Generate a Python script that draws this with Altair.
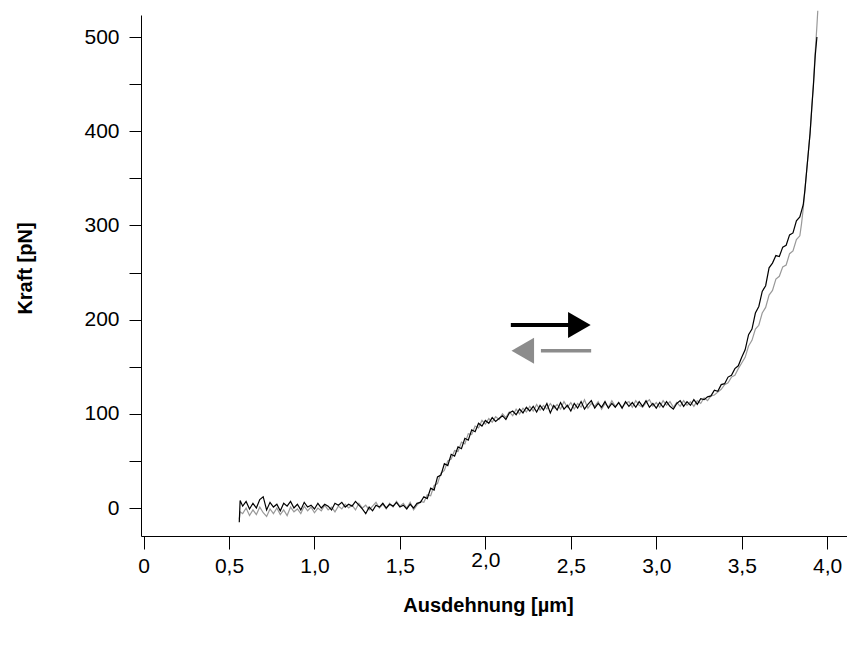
import altair as alt
import pandas as pd

FONT = "Liberation Sans"

# Stretch trace (black): (Ausdehnung µm, Kraft pN)
black_pts = [
    (0.56, -15), (0.565, 8), (0.58, 2), (0.60, 7), (0.62, -1), (0.64, 5), (0.66, 0), (0.68, 9),
    (0.70, 12), (0.72, -2), (0.74, 6), (0.76, 1), (0.78, 4), (0.80, -3), (0.82, 5), (0.84, 2),
    (0.86, 7), (0.88, 0), (0.90, 4), (0.92, -2), (0.94, 6), (0.96, 1), (0.98, 3), (1.00, -1),
    (1.02, 5), (1.04, 0), (1.06, 4), (1.08, 2), (1.10, -2), (1.12, 5), (1.14, 3), (1.16, 6),
    (1.18, 1), (1.20, 4), (1.22, 2), (1.24, 7), (1.26, 3), (1.28, -1), (1.30, -6), (1.32, 1),
    (1.34, -3), (1.36, 3), (1.38, 1), (1.40, 5), (1.42, 0), (1.44, 4), (1.46, 2), (1.48, 6),
    (1.50, 1), (1.52, 3), (1.54, -1), (1.56, 4), (1.58, 0), (1.60, 5), (1.62, 6), (1.64, 12),
    (1.66, 10), (1.68, 21), (1.70, 19), (1.72, 33), (1.74, 35), (1.76, 47), (1.78, 45), (1.80, 57),
    (1.82, 55), (1.84, 65), (1.86, 63), (1.88, 74), (1.90, 72), (1.92, 83), (1.94, 81), (1.96, 90),
    (1.98, 87), (2.00, 93), (2.02, 90), (2.04, 96), (2.06, 92), (2.08, 95), (2.10, 98), (2.12, 94),
    (2.14, 101), (2.16, 103), (2.18, 99), (2.20, 105), (2.22, 101), (2.24, 107), (2.26, 103), (2.28, 108),
    (2.30, 102), (2.32, 109), (2.34, 104), (2.36, 111), (2.38, 101), (2.40, 109), (2.42, 104), (2.44, 112),
    (2.46, 105), (2.48, 109), (2.50, 103), (2.52, 111), (2.54, 106), (2.56, 113), (2.58, 105), (2.60, 110),
    (2.62, 114), (2.64, 106), (2.66, 111), (2.68, 107), (2.70, 113), (2.72, 106), (2.74, 111), (2.76, 107),
    (2.78, 112), (2.80, 106), (2.82, 113), (2.84, 108), (2.86, 112), (2.88, 107), (2.90, 113), (2.92, 108),
    (2.94, 114), (2.96, 107), (2.98, 111), (3.00, 106), (3.02, 112), (3.04, 107), (3.06, 113), (3.08, 108),
    (3.10, 105), (3.12, 111), (3.14, 114), (3.16, 108), (3.18, 113), (3.20, 109), (3.22, 115), (3.24, 110),
    (3.26, 116), (3.28, 115), (3.30, 118), (3.32, 119), (3.34, 125), (3.36, 124), (3.38, 131), (3.40, 132),
    (3.42, 139), (3.44, 141), (3.46, 148), (3.48, 151), (3.50, 160), (3.52, 168), (3.54, 184), (3.56, 190),
    (3.58, 207), (3.60, 214), (3.62, 230), (3.64, 236), (3.66, 255), (3.68, 260), (3.70, 268), (3.72, 267),
    (3.74, 277), (3.76, 279), (3.78, 290), (3.80, 292), (3.82, 305), (3.84, 309), (3.86, 322), (3.87, 338),
    (3.88, 358), (3.89, 378), (3.90, 398), (3.91, 425), (3.92, 450), (3.93, 480), (3.94, 500),
]

# Relaxation trace (grey)
gray_pts = [
    (0.56, -12), (0.565, -4), (0.58, -6), (0.60, 0), (0.62, -8), (0.64, -2), (0.66, -7), (0.68, 1),
    (0.70, -5), (0.72, -9), (0.74, -1), (0.76, -6), (0.78, 0), (0.80, -7), (0.82, -2), (0.84, -8),
    (0.86, 1), (0.88, -4), (0.90, -1), (0.92, -6), (0.94, 2), (0.96, -3), (0.98, 1), (1.00, -5),
    (1.02, 0), (1.04, -3), (1.06, 3), (1.08, -2), (1.10, 1), (1.12, -4), (1.14, 2), (1.16, -1),
    (1.18, 4), (1.20, 0), (1.22, 3), (1.24, -2), (1.26, 5), (1.28, 0), (1.30, 3), (1.32, -2),
    (1.34, 2), (1.36, 6), (1.38, 0), (1.40, 4), (1.42, -1), (1.44, 5), (1.46, 1), (1.48, 7),
    (1.50, 2), (1.52, 5), (1.54, 0), (1.56, 6), (1.58, -2), (1.60, 3), (1.62, 7), (1.64, 6),
    (1.66, 14), (1.68, 13), (1.70, 24), (1.72, 26), (1.74, 37), (1.76, 40), (1.78, 50), (1.80, 52),
    (1.82, 61), (1.84, 60), (1.86, 70), (1.88, 68), (1.90, 79), (1.92, 78), (1.94, 87), (1.96, 85),
    (1.98, 93), (2.00, 89), (2.02, 95), (2.04, 91), (2.06, 97), (2.08, 94), (2.10, 100), (2.12, 96),
    (2.14, 102), (2.16, 98), (2.18, 105), (2.20, 100), (2.22, 106), (2.24, 102), (2.26, 108), (2.28, 103),
    (2.30, 110), (2.32, 104), (2.34, 109), (2.36, 105), (2.38, 111), (2.40, 106), (2.42, 110), (2.44, 105),
    (2.46, 113), (2.48, 107), (2.50, 112), (2.52, 105), (2.54, 111), (2.56, 107), (2.58, 115), (2.60, 106),
    (2.62, 111), (2.64, 108), (2.66, 113), (2.68, 105), (2.70, 111), (2.72, 107), (2.74, 114), (2.76, 108),
    (2.78, 112), (2.80, 107), (2.82, 111), (2.84, 113), (2.86, 107), (2.88, 114), (2.90, 109), (2.92, 107),
    (2.94, 112), (2.96, 115), (2.98, 108), (3.00, 112), (3.02, 107), (3.04, 114), (3.06, 109), (3.08, 113),
    (3.10, 107), (3.12, 112), (3.14, 108), (3.16, 114), (3.18, 109), (3.20, 113), (3.22, 108), (3.24, 114),
    (3.26, 111), (3.28, 117), (3.30, 114), (3.32, 119), (3.34, 120), (3.36, 123), (3.38, 126), (3.40, 131),
    (3.42, 133), (3.44, 139), (3.46, 141), (3.48, 148), (3.50, 154), (3.52, 160), (3.54, 172), (3.56, 178),
    (3.58, 190), (3.60, 194), (3.62, 207), (3.64, 213), (3.66, 226), (3.68, 231), (3.70, 243), (3.72, 246),
    (3.74, 256), (3.76, 258), (3.78, 270), (3.80, 273), (3.82, 285), (3.84, 289), (3.85, 302), (3.86, 318),
    (3.87, 338), (3.88, 358), (3.89, 378), (3.90, 398), (3.91, 425), (3.92, 452), (3.93, 484), (3.94, 512),
    (3.945, 528),
]

x_ticks = [0, 0.5, 1.0, 1.5, 2.0, 2.5, 3.0, 3.5, 4.0]
y_ticks = [0, 50, 100, 150, 200, 250, 300, 350, 400, 450, 500]
x_domain = [-0.015, 4.116]
y_domain = [-29.7, 523.4]

# Direction arrows (annotation), in data units
arrow_x = [2.149, 2.325]
arrow_x2 = [2.496, 2.619]
arrow_y = [194.3, 167.0]
arrow_head_x = [2.550, 2.219]
arrow_shape = ["triangle-right", "triangle-left"]
arrow_color = ["#000000", "#8c8c8c"]

black_df = pd.DataFrame({"x": [p[0] for p in black_pts], "y": [p[1] for p in black_pts]})
black_df["i"] = range(len(black_df))
gray_df = pd.DataFrame({"x": [p[0] for p in gray_pts], "y": [p[1] for p in gray_pts]})
gray_df["i"] = range(len(gray_df))
rule_df = pd.DataFrame({"x": arrow_x, "x2": arrow_x2, "y": arrow_y, "c": arrow_color, "w": [4, 3.5]})
head_df = pd.DataFrame({"x": arrow_head_x, "y": arrow_y, "s": arrow_shape, "c": arrow_color})

x_enc = alt.X(
    "x:Q",
    scale=alt.Scale(domain=x_domain, nice=False, zero=False),
    axis=alt.Axis(
        values=x_ticks,
        title="Ausdehnung [µm]",
        labelExpr="datum.value == 0 ? '0' : replace(format(datum.value, '.1f'), '.', ',')",
        tickSize=13,
        labelPadding={"condition": {"test": "datum.value == 2", "value": 0}, "value": 6},
        titleX=347,
        titleY=69,
        titleBaseline="middle",
        titleAlign="center",
        labelFlush=False,
        labelOverlap=False,
    ),
)
y_enc = alt.Y(
    "y:Q",
    scale=alt.Scale(domain=y_domain, nice=False, zero=False),
    axis=alt.Axis(
        values=y_ticks,
        title="Kraft [pN]",
        labelExpr="datum.value % 100 == 0 ? datum.label : ''",
        format="d",
        tickSize=12,
        labelPadding=10,
        titleX=-116,
        titleY=253,
        titleAngle=-90,
        titleBaseline="middle",
        titleAlign="center",
        labelFlush=False,
        labelOverlap=False,
    ),
)

gray_line = alt.Chart(gray_df).mark_line(color="#999999", strokeWidth=1.2, clip=False).encode(
    x=x_enc, y=y_enc, order="i:Q"
)
black_line = alt.Chart(black_df).mark_line(color="#000000", strokeWidth=1.2, clip=False).encode(
    x=x_enc, y=y_enc, order="i:Q"
)
rules = alt.Chart(rule_df).mark_rule().encode(
    x=x_enc, x2="x2:Q", y=y_enc,
    color=alt.Color("c:N", scale=None),
    strokeWidth=alt.StrokeWidth("w:Q", scale=None),
)
heads = alt.Chart(head_df).mark_point(filled=True, opacity=1, size=680, strokeWidth=0).encode(
    x=x_enc, y=y_enc,
    shape=alt.Shape("s:N", scale=None),
    color=alt.Color("c:N", scale=None),
)

chart = (
    alt.layer(gray_line, black_line, rules, heads)
    .properties(
        width=706,
        height=521,
        autosize=alt.AutoSizeParams(type="none"),
        padding={"left": 141, "top": 15, "right": 0, "bottom": 110},
        background="white",
    )
    .configure_view(stroke=None)
    .configure_axis(
        grid=False,
        domainColor="#000000",
        tickColor="#000000",
        domainWidth=1,
        tickWidth=1,
        labelColor="#000000",
        titleColor="#000000",
        labelFont=FONT,
        titleFont=FONT,
        labelFontSize=21,
        titleFontSize=20,
        titleFontWeight="bold",
    )
)

chart.save("out.html", embed_options={"renderer": "svg", "actions": False})
